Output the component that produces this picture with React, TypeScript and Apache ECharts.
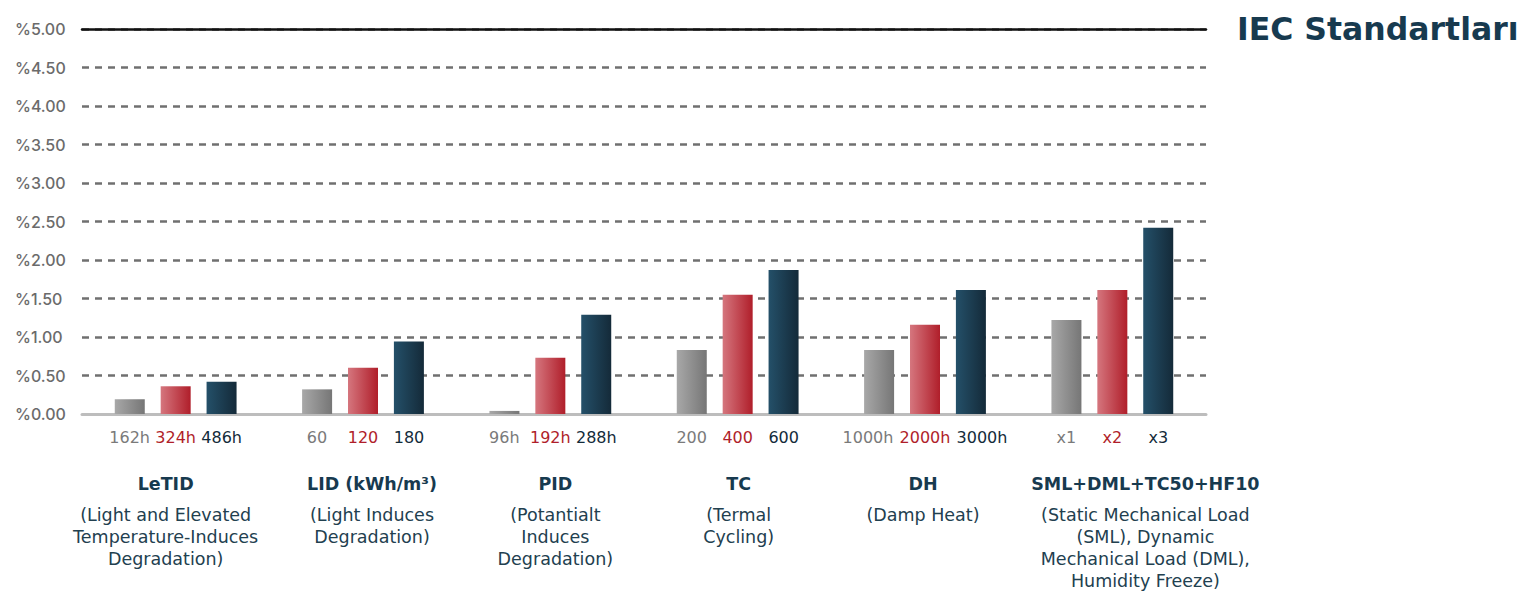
import React, { useEffect, useRef } from "react";
import * as echarts from "echarts";

const categories = ["LeTID", "LID (kWh/m³)", "PID", "TC", "DH", "SML+DML+TC50+HF10"];
const durations = [
  ["162h", "324h", "486h"],
  ["60", "120", "180"],
  ["96h", "192h", "288h"],
  ["200", "400", "600"],
  ["1000h", "2000h", "3000h"],
  ["x1", "x2", "x3"],
];
const descriptions = [
  ["(Light and Elevated", "Temperature-Induces", "Degradation)"],
  ["(Light Induces", "Degradation)"],
  ["(Potantialt", "Induces", "Degradation)"],
  ["(Termal", "Cycling)"],
  ["(Damp Heat)"],
  ["(Static Mechanical Load", "(SML), Dynamic", "Mechanical Load (DML),", "Humidity Freeze)"],
];
const grayValues = [0.19, 0.32, 0.04, 0.83, 0.83, 1.22];
const redValues = [0.36, 0.6, 0.73, 1.55, 1.16, 1.61];
const darkValues = [0.42, 0.94, 1.29, 1.87, 1.61, 2.42];
const yTicks = [0, 0.5, 1, 1.5, 2, 2.5, 3, 3.5, 4, 4.5, 5];
const chartTitle = "IEC Standartları";

// layout: horizontal nudge (px) of the name/description block for each category
const textShift = [-10, 9, 5, 1, -2, 33];

const FONT = "DejaVu Sans";
const YFONT = "Inter";

export default function App() {
  const ref = useRef<HTMLDivElement>(null);
  useEffect(() => {
    document.body.style.margin = "0";
    const chart = echarts.init(ref.current!, null, { renderer: "svg" });
    const grad = (a: string, b: string) =>
      new echarts.graphic.LinearGradient(0, 0, 1, 0, [
        { offset: 0, color: a },
        { offset: 1, color: b },
      ]);
    const tok = (color: string, width: number) => ({
      color,
      fontFamily: FONT,
      fontSize: 16,
      fontWeight: "normal",
      width,
      align: "center",
      lineHeight: 22,
    });
    const pad = (shift: number) =>
      shift >= 0 ? [0, 0, 0, shift * 2] : [0, -shift * 2, 0, 0];
    const rich: any = {
      g: tok("#7a7a7a", 46),
      r: tok("#b01e2a", 46),
      d: tok("#132b3a", 46),
      gw: tok("#7a7a7a", 57),
      rw: tok("#b01e2a", 57),
      dw: tok("#132b3a", 57),
      sp: { fontSize: 10, lineHeight: 16, fontFamily: FONT },
    };
    textShift.forEach((sh, i) => {
      rich["t" + i] = {
        fontFamily: FONT,
        fontSize: 17.5,
        fontWeight: "bold",
        color: "#173a4f",
        lineHeight: 40,
        align: "center",
        padding: pad(sh),
      };
      rich["s" + i] = {
        fontFamily: FONT,
        fontSize: 17.5,
        fontWeight: "normal",
        color: "#22404f",
        lineHeight: 22,
        align: "center",
        padding: pad(sh),
      };
    });
    chart.setOption({
      animation: false,
      grid: { left: 82, right: 314, top: 29, bottom: 178, containLabel: false },
      graphic: [
        {
          type: "text",
          x: 1237,
          y: 29,
          style: {
            text: chartTitle,
            fontFamily: FONT,
            fontSize: 31.5,
            fontWeight: "bold",
            fill: "#173a4f",
            verticalAlign: "middle",
          },
        },
      ],
      xAxis: [
        {
          type: "category",
          data: categories,
          axisLine: { show: true, lineStyle: { color: "#bdbdbd", width: 3 } },
          axisTick: { show: false },
          axisLabel: {
            interval: 0,
            margin: 12,
            align: "center",
            formatter: (_v: string, idx: number) => {
              const d = durations[idx];
              const w = idx === 4 ? "w" : "";
              const lines = [
                `{g${w}|${d[0]}}{r${w}|${d[1]}}{d${w}|${d[2]}}`,
                `{sp| }`,
                `{t${idx}|${categories[idx]}}`,
                ...descriptions[idx].map((s) => `{s${idx}|${s}}`),
              ];
              return lines.join("\n");
            },
            rich,
          },
        },
        {
          type: "category",
          data: categories,
          position: "top",
          axisLine: { show: true, lineStyle: { color: "#111111", width: 2.5 } },
          axisTick: { show: false },
          axisLabel: { show: false },
        },
      ],
      yAxis: {
        type: "value",
        min: 0,
        max: 5,
        interval: 0.5,
        axisLine: { show: false },
        axisTick: { show: false },
        axisLabel: {
          align: "left",
          margin: 67,
          color: "#6b6b6b",
          fontFamily: YFONT,
          fontSize: 16,
          fontWeight: 500,
          formatter: (v: number) => (yTicks.includes(v) ? "%" + v.toFixed(2) : ""),
        },
        splitLine: {
          show: true,
          lineStyle: { color: "#707070", width: 2.5, type: [7, 6] },
        },
      },
      series: [
        {
          type: "bar",
          data: grayValues,
          barWidth: 30,
          barGap: "53%",
          itemStyle: { color: grad("#a8a8a8", "#767676") },
        },
        {
          type: "bar",
          data: redValues,
          barWidth: 30,
          barGap: "53%",
          itemStyle: { color: grad("#d5767e", "#b01e2a") },
        },
        {
          type: "bar",
          data: darkValues,
          barWidth: 30,
          barGap: "53%",
          itemStyle: { color: grad("#245069", "#142a39") },
        },
      ],
    });
    return () => chart.dispose();
  }, []);
  return <div ref={ref} style={{ width: 1520, height: 592 }} />;
}
